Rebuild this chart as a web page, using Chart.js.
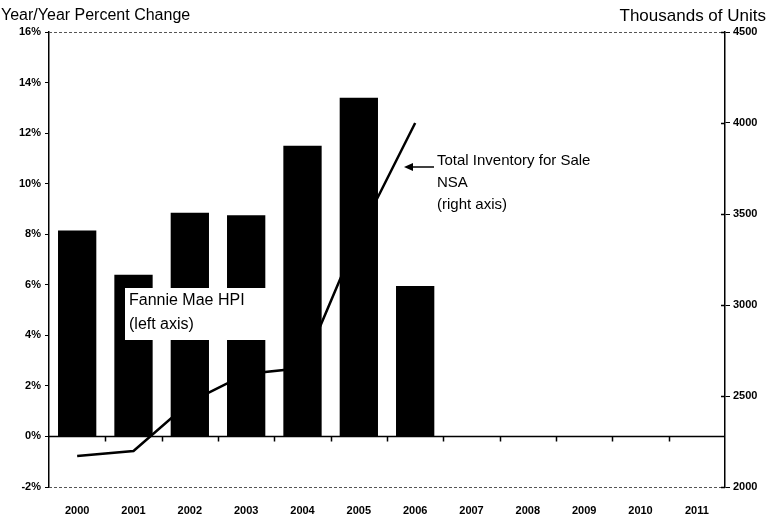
<!DOCTYPE html>
<html lang="en">
<head>
<meta charset="UTF-8">
<title>Fannie Mae HPI vs Inventory</title>
<style>
  body { margin: 0; background: #fff; }
  #wrap { position: relative; width: 768px; height: 517px; }
</style>
</head>
<body>
<div id="wrap"><canvas id="myChart" width="768" height="517"></canvas></div>

<script src="https://cdn.jsdelivr.net/npm/chart.js"></script>
<script>
// data
const years = ['2000','2001','2002','2003','2004','2005','2006','2007','2008','2009','2010','2011'];
const hpiChange = [8.15, 6.4, 8.85, 8.75, 11.5, 13.4, 5.95, null, null, null, null, null];   // left axis, %
const inventory = [2170, 2198, 2467, 2621, 2654, 3385, 4000, null, null, null, null, null];  // right axis, thousands
const leftTicks = [-2, 0, 2, 4, 6, 8, 10, 12, 14, 16];
const rightTicks = [2000, 2500, 3000, 3500, 4000, 4500];

const FONT = "'Liberation Sans', Arial, sans-serif";

// frame, zero line, titles and notes
const extras = {
  id: 'extras',
  beforeDatasetsDraw(chart) {
    const c = chart.ctx, a = chart.chartArea;
    c.save();
    c.strokeStyle = '#555';
    c.lineWidth = 1;
    c.setLineDash([3, 2]);
    c.beginPath();
    c.moveTo(a.left, a.top + 0.5); c.lineTo(a.right, a.top + 0.5);
    c.moveTo(a.left, a.bottom + 0.5); c.lineTo(a.right, a.bottom + 0.5);
    c.stroke();
    c.restore();
  },
  afterDraw(chart) {
    const c = chart.ctx, a = chart.chartArea;
    const y = chart.scales.y, y1 = chart.scales.y1;
    const y0 = Math.round(y.getPixelForValue(0)) + 0.5;
    c.save();
    // zero line with ticks between categories
    c.strokeStyle = '#000';
    c.lineWidth = 1.5;
    c.beginPath();
    c.moveTo(a.left, y0); c.lineTo(a.right, y0);
    const step = (a.right - a.left) / years.length;
    for (let i = 1; i < years.length; i++) {
      const tx = Math.round(a.left + i * step) + 0.5;
      c.moveTo(tx, y0); c.lineTo(tx, y0 + 5);
    }
    // right axis ticks poke into the plot a little too
    rightTicks.forEach(v => {
      const ty = Math.round(y1.getPixelForValue(v)) + 0.5;
      c.moveTo(a.right - 4, ty); c.lineTo(a.right, ty);
    });
    c.stroke();

    // axis titles
    c.fillStyle = '#000';
    c.textBaseline = 'middle';
    c.font = '16px ' + FONT;
    c.textAlign = 'left';
    c.fillText('Year/Year Percent Change', 1, 16);
    c.font = '17px ' + FONT;
    c.textAlign = 'right';
    c.fillText('Thousands of Units', 766, 16);

    // Fannie Mae label box
    c.fillStyle = '#fff';
    c.fillRect(125, 288, 146, 52);
    c.fillStyle = '#000';
    c.font = '16px ' + FONT;
    c.textAlign = 'left';
    c.fillText('Fannie Mae HPI', 129, 301);
    c.fillText('(left axis)', 129, 325);

    // inventory note with arrow
    c.font = '15px ' + FONT;
    c.fillText('Total Inventory for Sale', 437, 161);
    c.fillText('NSA', 437, 183);
    c.fillText('(right axis)', 437, 205);
    c.lineWidth = 1.5;
    c.beginPath();
    c.moveTo(434, 167); c.lineTo(410, 167);
    c.stroke();
    c.beginPath();
    c.moveTo(404, 167); c.lineTo(413, 163); c.lineTo(413, 171); c.closePath();
    c.fill();
    c.restore();
  }
};

const ctx = document.getElementById('myChart');

const chart = new Chart(ctx, {
  data: {
    labels: years,
    datasets: [
      {
        type: 'line',
        label: 'Total Inventory for Sale NSA',
        data: inventory,
        yAxisID: 'y1',
        borderColor: '#000',
        borderWidth: 2.5,
        pointRadius: 0,
        tension: 0,
        order: 0
      },
      {
        type: 'bar',
        label: 'Fannie Mae HPI',
        data: hpiChange,
        yAxisID: 'y',
        backgroundColor: '#000',
        borderWidth: 0,
        barPercentage: 0.68,
        categoryPercentage: 1,
        order: 1
      }
    ]
  },
  options: {
    responsive: false,
    animation: false,
    layout: { padding: { top: 32, left: 0, right: 0, bottom: 0 } },
    plugins: {
      legend: { display: false },
      tooltip: { enabled: false }
    },
    scales: {
      x: {
        grid: { display: false },
        border: { display: false },
        ticks: {
          color: '#000',
          font: { family: FONT, size: 11, weight: 'bold' },
          padding: 9,
          maxRotation: 0
        },
        afterFit(s) { s.height = 30; }
      },
      y: {
        position: 'left',
        min: -2, max: 16,
        afterBuildTicks(s) { s.ticks = leftTicks.map(v => ({ value: v })); },
        grid: { drawOnChartArea: false, tickLength: 4, color: '#000' },
        border: { display: true, color: '#000', width: 1.5 },
        ticks: {
          color: '#000',
          font: { family: FONT, size: 11, weight: 'bold' },
          padding: 4,
          callback: v => v + '%'
        },
        afterFit(s) { s.width = 49; }
      },
      y1: {
        position: 'right',
        min: 2000, max: 4500,
        afterBuildTicks(s) { s.ticks = rightTicks.map(v => ({ value: v })); },
        grid: { drawOnChartArea: false, tickLength: 5, color: '#000' },
        border: { display: true, color: '#000', width: 1.5 },
        ticks: {
          color: '#000',
          font: { family: FONT, size: 11, weight: 'bold' },
          padding: 3,
          callback: v => String(v)
        },
        afterFit(s) { s.width = 43; }
      }
    }
  },
  plugins: [extras]
});
</script>
</body>
</html>
